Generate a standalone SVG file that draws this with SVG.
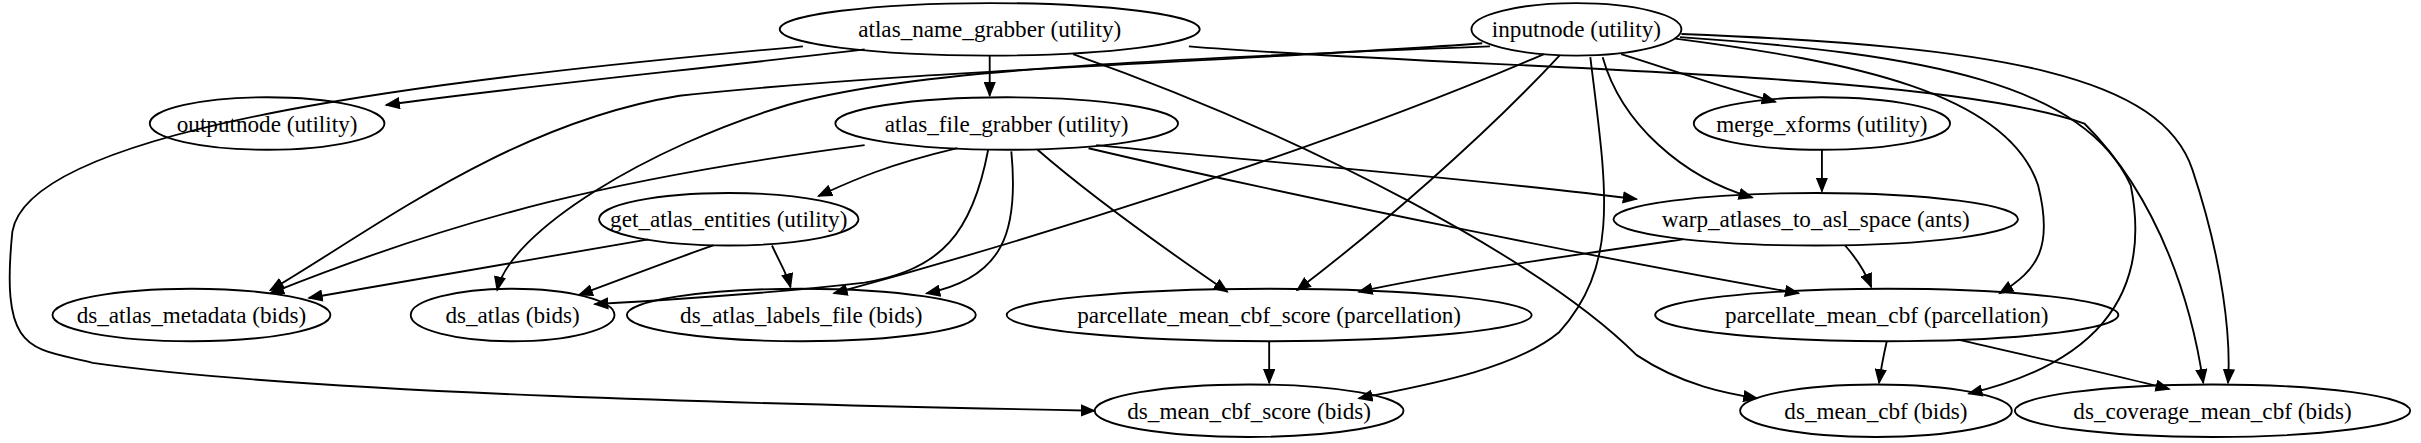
<svg xmlns="http://www.w3.org/2000/svg" width="2421" height="443" viewBox="0 0 2421 443">
<style>
.n ellipse{fill:none;stroke:#000;stroke-width:1.2}
.n text{font-family:"Liberation Serif",serif;font-size:15px;text-anchor:middle;dominant-baseline:central}
.e path{fill:none;stroke:#000;stroke-width:1.2;marker-end:url(#a)}
</style>
<defs><marker id="a" markerWidth="10" markerHeight="8" refX="9" refY="4" orient="auto" markerUnits="userSpaceOnUse"><path d="M0,0L10,4L0,8z" fill="#000"/></marker></defs>
<rect width="2421" height="443" fill="#fff"/>
<g transform="scale(1.544)">
<g class="e">
<path d="M560,32 C450,45 320,58 250,68"/>
<path d="M641,36 L641,62"/>
<path d="M520,30 C300,50 20,80 8,150 C0,230 20,225 60,235 C200,255 500,262 709,266"/>
<path d="M695,35 C850,90 1000,170 1060,230 C1090,250 1120,255 1138,258"/>
<path d="M770,30 C950,45 1250,45 1350,80 C1400,130 1420,200 1427,248"/>
<path d="M960,28 C800,40 600,45 440,62 C330,80 240,150 175,188"/>
<path d="M965,30 C700,40 580,48 510,68 C420,95 330,150 322,188"/>
<path d="M1000,35 C850,100 650,160 540,190"/>
<path d="M1010,36 C960,90 890,150 840,188"/>
<path d="M1030,37 C1040,120 1050,170 1010,215 C980,240 920,250 880,258"/>
<path d="M1038,37 C1050,80 1090,115 1135,128"/>
<path d="M1050,35 C1090,48 1120,58 1150,66"/>
<path d="M1085,25 C1200,40 1300,60 1320,120 C1330,160 1320,175 1295,190"/>
<path d="M1088,24 C1250,35 1350,55 1380,120 C1390,170 1380,230 1275,255"/>
<path d="M1089,22 C1300,30 1400,50 1420,110 C1440,170 1445,220 1443,248"/>
<path d="M620,96 C570,108 550,118 530,127"/>
<path d="M560,94 C400,115 300,140 175,190"/>
<path d="M640,97 C630,150 610,175 560,183 C500,190 420,195 385,197"/>
<path d="M655,98 C660,150 650,180 600,190"/>
<path d="M672,97 C710,130 760,165 795,189"/>
<path d="M710,94 C820,105 950,115 1060,129"/>
<path d="M705,96 C850,130 1050,170 1165,190"/>
<path d="M420,155 C330,170 260,182 200,193"/>
<path d="M462,159 C430,170 400,182 375,191"/>
<path d="M500,159 C505,170 510,178 512,186"/>
<path d="M1180,97 L1180,124"/>
<path d="M1090,155 C1000,168 930,178 880,189"/>
<path d="M1195,159 C1203,168 1208,176 1212,186"/>
<path d="M822,221 L822,248"/>
<path d="M1222,221 C1220,230 1218,240 1217,248"/>
<path d="M1268,220 C1320,232 1370,243 1405,252"/>
</g>
<g class="n" id="atlas_name_grabber"><ellipse cx="641" cy="19" rx="136" ry="17"/><text x="641" y="19">atlas_name_grabber (utility)</text></g>
<g class="n" id="inputnode"><ellipse cx="1021" cy="19" rx="68" ry="17"/><text x="1021" y="19">inputnode (utility)</text></g>
<g class="n" id="outputnode"><ellipse cx="173" cy="80" rx="76" ry="17"/><text x="173" y="80">outputnode (utility)</text></g>
<g class="n" id="atlas_file_grabber"><ellipse cx="652" cy="80" rx="111" ry="17"/><text x="652" y="80">atlas_file_grabber (utility)</text></g>
<g class="n" id="merge_xforms"><ellipse cx="1180" cy="80" rx="83" ry="17"/><text x="1180" y="80">merge_xforms (utility)</text></g>
<g class="n" id="get_atlas_entities"><ellipse cx="472" cy="142" rx="84" ry="17"/><text x="472" y="142">get_atlas_entities (utility)</text></g>
<g class="n" id="warp_atlases_to_asl_space"><ellipse cx="1176" cy="142" rx="131" ry="17"/><text x="1176" y="142">warp_atlases_to_asl_space (ants)</text></g>
<g class="n" id="ds_atlas_metadata"><ellipse cx="124" cy="204" rx="90" ry="17"/><text x="124" y="204">ds_atlas_metadata (bids)</text></g>
<g class="n" id="ds_atlas"><ellipse cx="332" cy="204" rx="66" ry="17"/><text x="332" y="204">ds_atlas (bids)</text></g>
<g class="n" id="ds_atlas_labels_file"><ellipse cx="519" cy="204" rx="113" ry="17"/><text x="519" y="204">ds_atlas_labels_file (bids)</text></g>
<g class="n" id="parcellate_mean_cbf_score"><ellipse cx="822" cy="204" rx="170" ry="17"/><text x="822" y="204">parcellate_mean_cbf_score (parcellation)</text></g>
<g class="n" id="parcellate_mean_cbf"><ellipse cx="1222" cy="204" rx="150" ry="17"/><text x="1222" y="204">parcellate_mean_cbf (parcellation)</text></g>
<g class="n" id="ds_mean_cbf_score"><ellipse cx="809" cy="266" rx="100" ry="17"/><text x="809" y="266">ds_mean_cbf_score (bids)</text></g>
<g class="n" id="ds_mean_cbf"><ellipse cx="1215" cy="266" rx="88" ry="17"/><text x="1215" y="266">ds_mean_cbf (bids)</text></g>
<g class="n" id="ds_coverage_mean_cbf"><ellipse cx="1433" cy="266" rx="128" ry="17"/><text x="1433" y="266">ds_coverage_mean_cbf (bids)</text></g>
</g>
</svg>
